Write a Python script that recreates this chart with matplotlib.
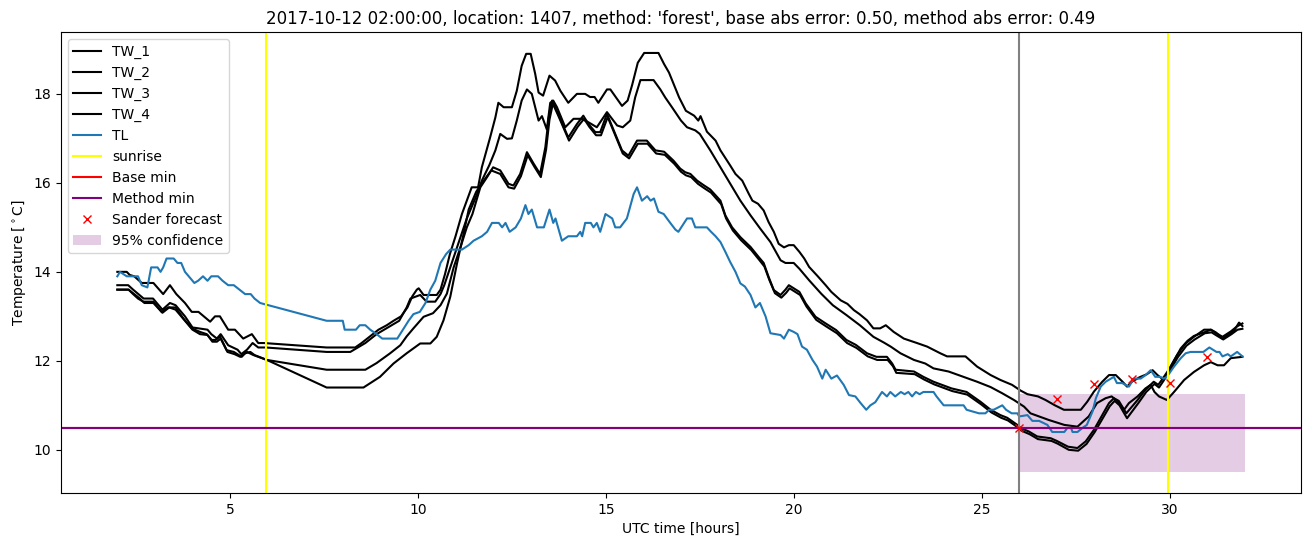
import numpy as np
import matplotlib
matplotlib.use('Agg')
import matplotlib.pyplot as plt

# (hour, temperature)
tl = [(2.0,13.9),(2.07,14.0),(2.25,13.9),(2.55,13.9),(2.65,13.7),(2.8,13.65),(2.9,14.1),(3.07,14.1),(3.15,14.0),(3.22,14.1),(3.31,14.3),(3.5,14.3),(3.6,14.2),(3.7,14.2),(3.8,14.0),(3.9,13.9),(4.05,13.75),(4.15,13.8),(4.28,13.9),(4.4,13.8),(4.5,13.9),(4.68,13.9),(4.8,13.8),(4.95,13.7),(5.1,13.7),(5.25,13.6),(5.4,13.5),(5.55,13.5),(5.65,13.4),(5.8,13.3),
      (7.57,12.9),(8.0,12.9),(8.05,12.7),(8.35,12.7),(8.45,12.8),(8.6,12.8),(8.73,12.7),(8.9,12.6),(9.05,12.5),(9.45,12.5),(9.6,12.7),(9.75,12.9),(9.88,13.05),(10.05,13.1),(10.2,13.3),(10.33,13.6),(10.46,13.8),(10.6,14.2),(10.75,14.4),(10.86,14.5),(11.17,14.5),(11.35,14.6),(11.48,14.7),(11.7,14.8),(11.84,14.9),(11.97,15.1),(12.15,15.1),(12.24,15.0),(12.33,15.1),(12.44,14.9),(12.6,15.0),(12.74,15.2),(12.86,15.5),(12.94,15.3),(13.03,15.4),(13.17,15.0),(13.35,15.0),(13.5,15.4),(13.6,15.1),(13.66,15.2),(13.83,14.7),(14.0,14.8),(14.23,14.8),(14.32,14.9),(14.37,14.8),(14.45,15.1),(14.6,15.1),(14.67,15.0),(14.76,15.1),(14.85,14.9),(14.99,15.3),(15.17,15.2),(15.25,15.0),(15.38,15.0),(15.56,15.2),(15.74,15.75),(15.83,15.9),(15.96,15.6),(16.1,15.7),(16.19,15.6),(16.28,15.65),(16.4,15.35),(16.54,15.3),(16.67,15.15),(16.85,14.95),(16.93,14.9),(17.16,15.2),(17.29,15.2),(17.38,15.0),(17.69,15.0),(17.8,14.9),(17.92,14.8),(18.05,14.67),(18.18,14.45),(18.31,14.22),(18.45,14.0),(18.58,13.74),(18.7,13.67),(18.85,13.48),(18.98,13.2),(19.1,13.3),(19.25,13.0),(19.38,12.62),(19.65,12.58),(19.74,12.5),(19.87,12.7),(20.0,12.65),(20.1,12.6),(20.22,12.32),(20.35,12.25),(20.5,12.02),(20.62,11.87),(20.76,11.6),(20.85,11.8),(21.0,11.6),(21.15,11.67),(21.33,11.46),(21.47,11.23),(21.64,11.2),(21.78,11.05),(21.93,10.9),(22.04,11.0),(22.17,11.07),(22.35,11.3),(22.48,11.2),(22.57,11.3),(22.7,11.2),(22.85,11.3),(22.95,11.25),(23.05,11.3),(23.15,11.2),(23.25,11.3),(23.35,11.25),(23.45,11.3),(23.72,11.3),(23.8,11.2),(23.99,11.0),(24.52,11.0),(24.6,10.9),(24.93,10.82),(25.1,10.82),(25.2,10.9),(25.32,10.9),(25.55,11.0),(25.65,10.9),(25.8,10.82),(25.95,10.82),(26.0,10.75),(26.22,10.78),(26.35,10.65),(26.53,10.65),(26.75,10.56),(26.88,10.4),(27.2,10.4),(27.28,10.49),(27.38,10.49),(27.42,10.4),(27.55,10.4),(27.68,10.49),(27.8,10.56),(27.95,10.86),(28.04,11.16),(28.17,11.42),(28.3,11.53),(28.52,11.64),(28.6,11.5),(28.74,11.5),(28.92,11.42),(29.05,11.6),(29.23,11.6),(29.35,11.67),(29.5,11.79),(29.62,11.64),(29.75,11.64),(29.85,11.6),(29.93,11.64),(30.12,11.87),(30.3,12.06),(30.43,12.17),(30.56,12.2),(30.9,12.2),(31.06,12.3),(31.25,12.2),(31.33,12.2),(31.41,12.1),(31.55,12.15),(31.63,12.1),(31.8,12.2),(31.94,12.1)]

tw_1 = [(2.0,14.0),(2.25,14.0),(2.33,13.93),(2.45,13.9),(2.65,13.75),(2.96,13.75),(3.22,13.5),(3.4,13.7),(3.57,13.5),(3.8,13.3),(3.98,13.1),(4.16,13.1),(4.47,12.88),(4.6,13.0),(4.73,13.0),(4.95,12.7),(5.13,12.7),(5.35,12.5),(5.58,12.6),(5.75,12.4),(5.9,12.4),
        (7.57,12.3),(8.33,12.3),(8.5,12.4),(8.65,12.5),(8.8,12.6),(8.95,12.7),(9.17,12.8),(9.35,12.9),(9.55,13.0),(9.72,13.2),(9.85,13.45),(9.97,13.6),(10.02,13.63),(10.15,13.48),(10.5,13.48),(10.6,13.6),(10.72,13.95),(10.85,14.4),(11.0,14.8),(11.17,15.3),(11.3,15.6),(11.43,15.9),(11.6,15.9),(11.7,16.35),(11.92,17.02),(12.06,17.47),(12.14,17.8),(12.28,17.7),(12.5,17.7),(12.63,18.07),(12.76,18.63),(12.88,18.9),(13.0,18.9),(13.12,18.45),(13.21,18.03),(13.33,17.96),(13.5,18.41),(13.65,18.3),(13.79,18.07),(14.0,17.8),(14.23,18.0),(14.45,18.0),(14.58,17.93),(14.7,17.93),(14.8,17.8),(15.03,18.1),(15.12,18.1),(15.43,17.73),(15.58,17.85),(15.7,18.2),(15.85,18.7),(16.02,18.92),(16.4,18.92),(16.55,18.67),(16.68,18.48),(16.95,17.92),(17.13,17.62),(17.35,17.51),(17.46,17.4),(17.52,17.5),(17.69,17.15),(17.92,16.95),(18.05,16.73),(18.31,16.39),(18.45,16.2),(18.63,16.05),(18.8,15.76),(18.9,15.6),(19.05,15.53),(19.2,15.38),(19.33,15.12),(19.47,14.9),(19.6,14.63),(19.74,14.55),(19.87,14.6),(20.0,14.6),(20.15,14.45),(20.28,14.3),(20.41,14.11),(20.64,13.9),(20.85,13.7),(21.0,13.55),(21.25,13.36),(21.43,13.28),(21.6,13.14),(21.75,13.05),(21.95,12.91),(22.12,12.73),(22.3,12.73),(22.45,12.8),(22.66,12.65),(22.93,12.5),(23.28,12.4),(23.55,12.32),(23.9,12.17),(24.08,12.1),(24.57,12.1),(24.88,11.87),(25.24,11.68),(25.5,11.57),(25.81,11.46),(26.04,11.33),(26.22,11.25),(26.5,11.2),(26.7,11.12),(26.95,11.0),(27.19,10.9),(27.64,10.9),(27.81,11.08),(27.99,11.31),(28.21,11.53),(28.39,11.68),(28.57,11.68),(28.75,11.53),(28.87,11.42),(29.0,11.53),(29.2,11.63),(29.4,11.7),(29.55,11.79),(29.68,11.68),(29.8,11.6),(29.93,11.68),(30.12,12.0),(30.3,12.28),(30.48,12.45),(30.65,12.56),(30.92,12.64),(31.1,12.7),(31.23,12.64),(31.41,12.5),(31.55,12.58),(31.72,12.68),(31.85,12.86),(31.94,12.78)]

tw_2 = [(2.0,13.7),(2.29,13.7),(2.42,13.6),(2.7,13.4),(2.95,13.4),(3.2,13.15),(3.4,13.3),(3.55,13.25),(3.8,13.0),(4.0,12.75),(4.4,12.7),(4.5,12.6),(4.65,12.5),(4.75,12.6),(4.95,12.35),(5.2,12.25),(5.3,12.15),(5.45,12.25),(5.6,12.4),(5.75,12.3),(5.95,12.3),
        (7.57,12.2),(8.2,12.2),(8.4,12.3),(8.6,12.4),(8.75,12.5),(8.9,12.6),(9.1,12.7),(9.3,12.8),(9.5,12.9),(9.7,13.2),(9.8,13.4),(10.06,13.48),(10.23,13.33),(10.46,13.33),(10.6,13.5),(10.7,13.7),(10.9,14.2),(11.1,14.7),(11.3,15.2),(11.45,15.5),(11.55,15.7),(11.7,16.05),(11.9,16.4),(12.06,16.73),(12.19,17.1),(12.37,16.99),(12.5,17.0),(12.63,17.4),(12.76,17.85),(12.9,18.1),(13.03,18.0),(13.12,17.7),(13.21,17.4),(13.3,17.5),(13.43,17.2),(13.52,17.8),(13.6,17.85),(13.7,17.7),(13.92,17.25),(14.14,17.44),(14.36,17.44),(14.54,17.36),(14.76,17.25),(15.03,17.59),(15.3,17.29),(15.45,17.25),(15.65,17.4),(15.78,17.92),(15.92,18.31),(16.27,18.31),(16.45,18.1),(16.58,17.92),(16.76,17.7),(17.0,17.4),(17.16,17.25),(17.38,17.18),(17.5,17.1),(17.78,16.73),(18.05,16.35),(18.31,15.98),(18.58,15.6),(18.85,15.27),(19.11,14.97),(19.38,14.67),(19.65,14.26),(19.78,14.2),(20.0,14.2),(20.15,14.07),(20.41,13.81),(20.73,13.51),(21.04,13.25),(21.4,13.03),(21.76,12.8),(22.12,12.54),(22.4,12.41),(22.58,12.32),(22.84,12.17),(23.2,12.02),(23.5,11.94),(23.72,11.83),(24.12,11.76),(24.52,11.64),(24.88,11.53),(25.24,11.41),(25.55,11.27),(25.86,11.12),(26.13,10.97),(26.3,10.82),(26.79,10.67),(27.2,10.56),(27.55,10.52),(27.85,10.75),(28.07,11.05),(28.3,11.16),(28.46,11.2),(28.63,11.08),(28.79,10.9),(28.92,11.05),(29.15,11.2),(29.36,11.38),(29.5,11.46),(29.6,11.3),(29.72,11.2),(29.93,11.12),(30.12,11.3),(30.39,11.57),(30.65,11.75),(30.92,11.9),(31.1,11.97),(31.28,11.9),(31.45,11.9),(31.63,12.06),(31.94,12.09)]

tw_3 = [(2.0,13.6),(2.3,13.6),(2.42,13.5),(2.55,13.4),(2.69,13.33),(2.96,13.33),(3.18,13.1),(3.35,13.2),(3.55,13.2),(3.76,12.95),(3.98,12.73),(4.2,12.65),(4.38,12.6),(4.51,12.47),(4.62,12.47),(4.73,12.55),(4.91,12.24),(5.1,12.2),(5.31,12.09),(5.4,12.17),(5.54,12.2),(5.65,12.13),(5.98,12.02),
        (7.57,11.8),(8.6,11.8),(8.9,11.95),(9.26,12.17),(9.53,12.35),(9.7,12.55),(9.88,12.73),(10.15,12.99),(10.4,13.07),(10.6,13.25),(10.77,13.51),(10.95,14.1),(11.15,14.6),(11.3,15.0),(11.45,15.3),(11.66,15.9),(11.84,16.13),(12.0,16.35),(12.19,16.28),(12.41,15.98),(12.54,15.94),(12.72,16.2),(12.9,16.69),(13.08,16.43),(13.25,16.2),(13.39,16.8),(13.48,17.47),(13.57,17.85),(13.73,17.55),(14.0,17.02),(14.23,17.32),(14.4,17.51),(14.54,17.32),(14.72,17.14),(14.85,17.14),(15.03,17.55),(15.2,17.2),(15.43,16.73),(15.6,16.61),(15.83,16.95),(16.09,16.95),(16.32,16.73),(16.55,16.7),(16.8,16.5),(16.98,16.32),(17.11,16.24),(17.25,16.2),(17.43,16.05),(17.6,15.95),(17.78,15.85),(18.05,15.6),(18.18,15.27),(18.36,15.0),(18.58,14.78),(18.85,14.56),(19.07,14.33),(19.2,14.2),(19.33,13.89),(19.47,13.59),(19.65,13.48),(19.78,13.6),(19.87,13.7),(20.0,13.63),(20.15,13.55),(20.32,13.29),(20.58,12.99),(20.85,12.84),(21.13,12.69),(21.4,12.47),(21.65,12.36),(21.95,12.17),(22.2,12.09),(22.48,12.09),(22.62,11.94),(22.71,11.8),(23.2,11.76),(23.45,11.64),(23.72,11.53),(24.2,11.38),(24.6,11.3),(24.97,11.08),(25.24,10.9),(25.5,10.78),(25.68,10.72),(25.95,10.56),(26.04,10.49),(26.26,10.41),(26.48,10.3),(26.84,10.26),(27.0,10.2),(27.3,10.07),(27.55,10.04),(27.77,10.19),(27.99,10.45),(28.21,10.78),(28.39,11.05),(28.52,11.16),(28.65,11.1),(28.85,10.82),(29.15,11.12),(29.36,11.35),(29.58,11.53),(29.7,11.46),(29.82,11.6),(29.97,11.79),(30.2,12.13),(30.43,12.39),(30.65,12.54),(30.92,12.7),(31.1,12.7),(31.25,12.62),(31.41,12.54),(31.63,12.66),(31.79,12.77),(31.94,12.84)]

tw_4 = [(2.0,13.6),(2.3,13.6),(2.45,13.5),(2.6,13.4),(2.72,13.3),(2.96,13.3),(3.2,13.08),(3.38,13.2),(3.55,13.15),(3.78,12.92),(4.0,12.7),(4.2,12.6),(4.4,12.58),(4.53,12.43),(4.65,12.43),(4.75,12.5),(4.93,12.2),(5.12,12.15),(5.27,12.09),(5.45,12.2),(5.62,12.13),(5.98,12.02),
        (7.57,11.4),(8.55,11.4),(8.99,11.64),(9.35,11.94),(9.7,12.17),(10.06,12.39),(10.33,12.39),(10.5,12.54),(10.68,12.91),(10.86,13.44),(11.04,14.19),(11.2,14.8),(11.35,15.4),(11.55,15.8),(11.75,16.05),(11.95,16.28),(12.19,16.2),(12.41,15.9),(12.56,15.87),(12.74,16.15),(12.92,16.62),(13.1,16.36),(13.27,16.13),(13.41,16.75),(13.5,17.42),(13.59,17.78),(13.75,17.48),(14.02,16.95),(14.25,17.26),(14.42,17.44),(14.56,17.26),(14.74,17.07),(14.87,17.07),(15.05,17.48),(15.22,17.13),(15.45,16.66),(15.62,16.55),(15.85,16.88),(16.11,16.88),(16.34,16.66),(16.57,16.63),(16.82,16.43),(17.0,16.25),(17.13,16.17),(17.27,16.13),(17.45,15.98),(17.62,15.88),(17.8,15.78),(18.07,15.52),(18.2,15.2),(18.38,14.93),(18.6,14.71),(18.87,14.49),(19.09,14.26),(19.22,14.12),(19.35,13.82),(19.5,13.52),(19.67,13.42),(19.8,13.53),(19.89,13.63),(20.02,13.56),(20.17,13.48),(20.34,13.22),(20.6,12.92),(20.87,12.77),(21.15,12.62),(21.42,12.4),(21.67,12.29),(21.97,12.1),(22.22,12.02),(22.5,12.02),(22.64,11.88),(22.73,11.73),(23.22,11.7),(23.47,11.58),(23.74,11.47),(24.22,11.32),(24.62,11.24),(24.99,11.02),(25.26,10.84),(25.52,10.72),(25.7,10.66),(25.97,10.5),(26.06,10.43),(26.28,10.35),(26.5,10.24),(26.86,10.2),(27.02,10.14),(27.32,10.0),(27.57,9.98),(27.79,10.13),(28.01,10.4),(28.23,10.72),(28.41,10.98),(28.54,11.1),(28.67,11.0),(28.87,10.71),(29.17,11.05),(29.38,11.3),(29.6,11.48),(29.72,11.4),(29.84,11.55),(29.99,11.75),(30.22,12.08),(30.45,12.34),(30.67,12.48),(30.94,12.62),(31.12,12.64),(31.27,12.56),(31.43,12.48),(31.65,12.6),(31.81,12.7),(31.94,12.72)]

sunrise_hours = [5.95, 29.97]
forecast_start = 26.0
base_min = 10.5
method_min = 10.48
sander_hours = [26, 27, 28, 29, 30, 31]
sander_temps = [10.49, 11.14, 11.48, 11.6, 11.5, 12.08]
conf_hours = [26.0, 32.0]
conf_low = 9.5
conf_high = 11.25

title = ("2017-10-12 02:00:00, location: 1407, method: 'forest', "
         "base abs error: 0.50, method abs error: 0.49")

fig, ax = plt.subplots(figsize=(13.11, 5.47), dpi=100)
fig.subplots_adjust(left=0.0465, right=0.9924, top=0.9415, bottom=0.0987)

for name, series in [('TW_1', tw_1), ('TW_2', tw_2), ('TW_3', tw_3), ('TW_4', tw_4)]:
    h, t = np.array(series).T
    ax.plot(h, t, color='black', label=name)

h, t = np.array(tl).T
ax.plot(h, t, color='C0', label='TL')

for i, s in enumerate(sunrise_hours):
    ax.axvline(s, color='yellow', label='sunrise' if i == 0 else None)
ax.axvline(forecast_start, color='gray')
ax.axhline(base_min, color='red', label='Base min')
ax.axhline(method_min, color='purple', label='Method min')
ax.plot(sander_hours, sander_temps, 'rx', label='Sander forecast')
ax.fill_between(conf_hours, conf_low, conf_high, color='purple', alpha=0.2,
                linewidth=0, label='95% confidence')

ax.set_title(title)
ax.set_xlabel('UTC time [hours]')
ax.set_ylabel(r'Temperature [$^\circ$C]')
ax.legend(loc='upper left')

fig.savefig('out.png', dpi=100)
